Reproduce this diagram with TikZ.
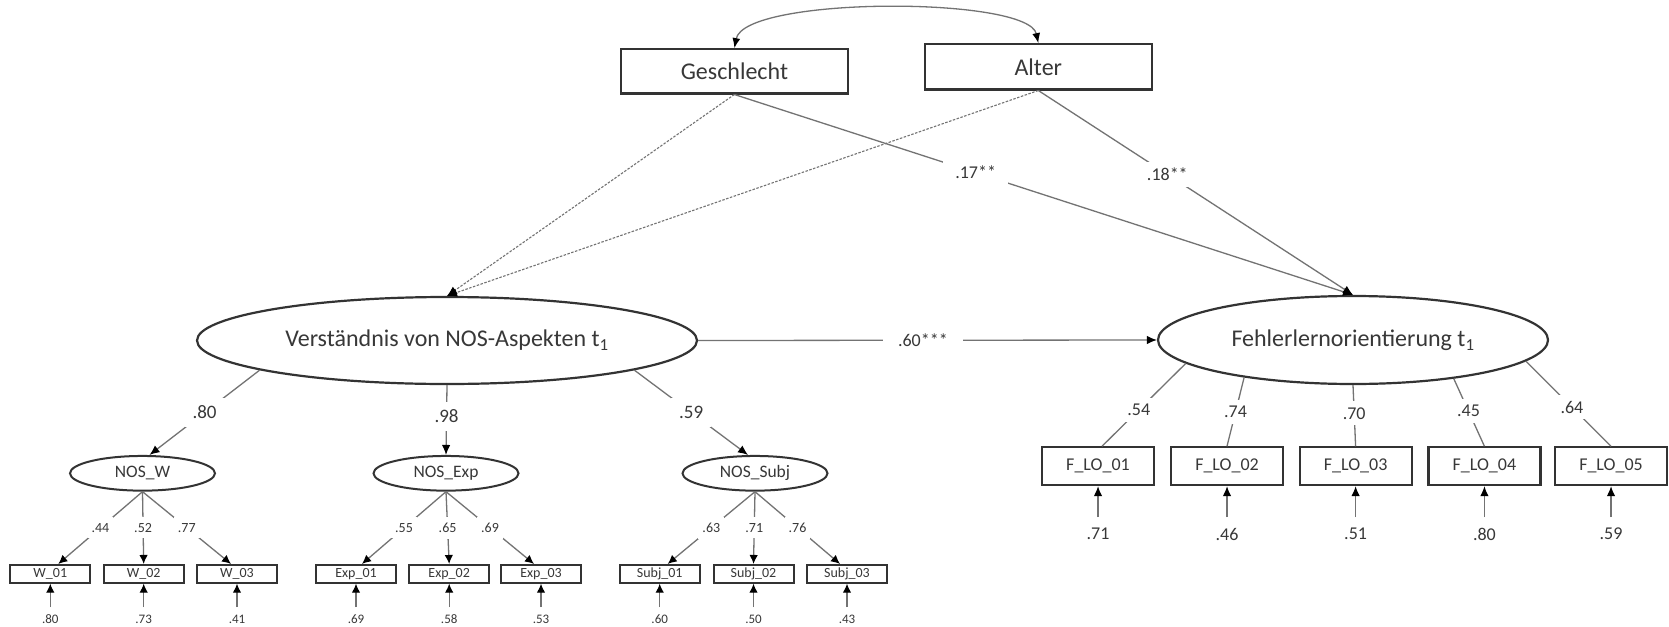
\documentclass[tikz,border=0pt]{standalone}
\usepackage{fontspec}
\setmainfont{Carlito}
\usetikzlibrary{arrows.meta,calc,shapes.geometric}
\begin{document}
\begin{tikzpicture}[x=1pt,y=-1pt,
  every node/.style={inner sep=0pt,text=black!78},
  fs/.style={font=\fontsize{#1}{#1}\selectfont},
  covbox/.style={draw=black!80,line width=2.4pt,minimum width=227pt,minimum height=44pt,fs=24},
  latent/.style={ellipse,draw=black!80,line width=2.2pt,fs=24},
  factor/.style={ellipse,draw=black!80,line width=2pt,minimum width=145pt,minimum height=34.7pt,fs=17.5},
  item/.style={draw=black!80,line width=2pt,minimum width=80pt,minimum height=17.7pt,fs=14},
  fitem/.style={draw=black!80,line width=2.2pt,minimum width=112pt,minimum height=37.7pt,fs=18},
  link/.style={draw=black!55,line width=1.3pt},
  dlink/.style={draw=black!55,line width=1.1pt,dash pattern=on 2.5pt off 1.5pt},
  tip/.style={-{Latex[length=10pt,width=8.5pt,color=black]}},
  stip/.style={-{Latex[length=9pt,width=8.5pt,color=black]}},
  lbl/.style={fill=white,inner xsep=4pt,inner ysep=6pt,fs=#1},
]
\fill[white] (0,0) rectangle (1669,626);
\useasboundingbox (0,0) rectangle (1669,626);

% covariates
\node[covbox] (G) at (734.4,71.3) {Geschlecht};
\node[covbox,minimum height=45pt] (A) at (1038.3,66.8) {Alter};

% latent constructs
\node[latent,minimum width=500pt,minimum height=87pt] (V) at (447,340.5) {Verständnis von NOS-Aspekten t\textsubscript{1}};
\node[latent,minimum width=390pt,minimum height=88pt] (F) at (1353,340) {Fehlerlernorientierung t\textsubscript{1}};

% first-order NOS factors
\node[factor] (NW) at (142.5,473.3) {NOS\_W};
\node[factor] (NE) at (446,473.3) {NOS\_Exp};
\node[factor] (NS) at (755,473.3) {NOS\_Subj};

% NOS indicators
\node[item] (W1) at (50.3,573.8) {W\_01};
\node[item] (W2) at (143.7,573.8) {W\_02};
\node[item] (W3) at (237,573.8) {W\_03};
\node[item] (E1) at (356,573.8) {Exp\_01};
\node[item] (E2) at (449.2,573.8) {Exp\_02};
\node[item] (E3) at (541,573.8) {Exp\_03};
\node[item] (S1) at (659.7,573.8) {Subj\_01};
\node[item] (S2) at (753.5,573.8) {Subj\_02};
\node[item] (S3) at (847,573.8) {Subj\_03};

% error-learning indicators
\node[fitem] (L1) at (1098,466.2) {F\_LO\_01};
\node[fitem] (L2) at (1227,466.2) {F\_LO\_02};
\node[fitem] (L3) at (1355.6,466.2) {F\_LO\_03};
\node[fitem] (L4) at (1484.4,466.2) {F\_LO\_04};
\node[fitem] (L5) at (1611,466.2) {F\_LO\_05};

% covariance between the covariates
\draw[link,{Latex[length=10pt,width=8pt,color=black]}-{Latex[length=10pt,width=8pt,color=black]}]
  (G.north) .. controls ($(G.north)+(10,-52)$) and ($(A.north)+(-10,-47)$) .. (A.north);

% covariate paths
\draw[dlink,tip] (G.south) -- (V.north);
\draw[dlink,tip] (A.south) -- (V.north);
\draw[link,tip] (G.south) -- node[lbl=18,pos=.39,inner xsep=12pt]{.17**} (F.north);
\draw[link,tip] (A.south) -- node[lbl=18,pos=.41]{.18**} (F.north);

% structural path
\draw[link,tip] (V.east) -- node[lbl=18,pos=.49,inner xsep=15pt]{.60***} (F.west);

% second-order loadings
\draw[link,tip] (V.189) -- node[lbl=19,pos=.5,inner sep=8pt]{.80} ([xshift=7pt]NW.north);
\draw[link,tip] (V.south) -- node[lbl=19,pos=.45,inner sep=8pt]{.98} (NE.north);
\draw[link,tip] (V.351) -- node[lbl=19,pos=.5,inner sep=8pt]{.59} ([xshift=-7pt]NS.north);

% first-order loadings
\draw[link,stip] (NW.south) -- node[lbl=14,pos=.5]{.44} ([xshift=8pt]W1.north);
\draw[link,stip] (NW.south) -- node[lbl=14,pos=.5]{.52} (W2.north);
\draw[link,stip] (NW.south) -- node[lbl=14,pos=.5]{.77} ([xshift=-6pt]W3.north);
\draw[link,stip] (NE.south) -- node[lbl=14,pos=.5]{.55} ([xshift=6pt]E1.north);
\draw[link,stip] (NE.south) -- node[lbl=14,pos=.5]{.65} (E2.north);
\draw[link,stip] (NE.south) -- node[lbl=14,pos=.5]{.69} ([xshift=-7pt]E3.north);
\draw[link,stip] (NS.south) -- node[lbl=14,pos=.5]{.63} ([xshift=8pt]S1.north);
\draw[link,stip] (NS.south) -- node[lbl=14,pos=.5]{.71} (S2.north);
\draw[link,stip] (NS.south) -- node[lbl=14,pos=.5]{.76} ([xshift=-7pt]S3.north);

% loadings of the error-learning indicators
\draw[link] (F.188) -- node[lbl=18,pos=.56]{.54} ([xshift=4pt]L1.north);
\draw[link] (F.199) -- node[lbl=18,pos=.5]{.74} (L2.north);
\draw[link] (F.south) -- node[lbl=18,pos=.46]{.70} (L3.north);
\draw[link] (F.339) -- node[lbl=18,pos=.48]{.45} (L4.north);
\draw[link] (F.353) -- node[lbl=18,pos=.54]{.64} (L5.north);

% residual terms of the NOS indicators
\foreach \n/\x/\v in {W1/50.3/.80, W2/143.7/.73, W3/237/.41, E1/356/.69, E2/449.2/.58,
                      E3/541/.53, S1/659.7/.60, S2/753.5/.50, S3/847/.43}{
  \coordinate (u\n) at (\x,607);
  \node[fs=13] (r\n) at (\x,619) {\v};
  \draw[link,stip] (u\n) -- (\n.south);
}

% residual terms of the error-learning indicators
\foreach \n/\x/\v in {L1/1098/.71, L2/1227/.46, L3/1355.6/.51, L4/1484.4/.80, L5/1611/.59}{
  \coordinate (u\n) at (\x,517);
  \node[fs=18] (r\n) at (\x,534) {\v};
  \draw[link,tip] (u\n) -- (\n.south);
}
\end{tikzpicture}
\end{document}
